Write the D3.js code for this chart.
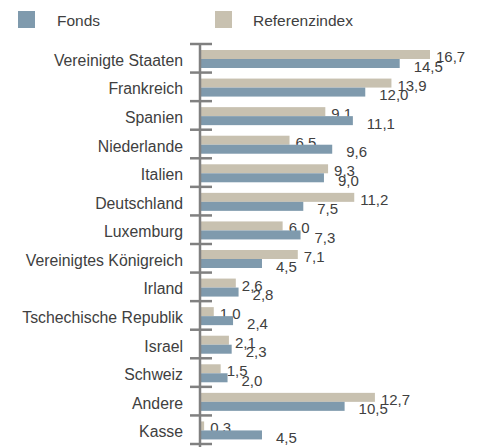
<!DOCTYPE html>
<html>
<head>
<meta charset="utf-8">
<script src="https://cdn.jsdelivr.net/npm/d3@7"></script>
<style>
  body { margin: 0; background: #fff; }
  svg text { font-family: "Liberation Sans", Arial, sans-serif; fill: #404040; }
</style>
</head>
<body>
<svg width="482" height="447"></svg>
<script>
// data
const laender = ['Vereinigte Staaten', 'Frankreich', 'Spanien', 'Niederlande', 'Italien',
  'Deutschland', 'Luxemburg', 'Vereinigtes Königreich', 'Irland', 'Tschechische Republik',
  'Israel', 'Schweiz', 'Andere', 'Kasse']
const fonds = [14.5, 12.0, 11.1, 9.6, 9.0, 7.5, 7.3, 4.5, 2.8, 2.4, 2.3, 2.0, 10.5, 4.5]
const referenz = [16.7, 13.9, 9.1, 6.5, 9.3, 11.2, 6.0, 7.1, 2.6, 1.0, 2.1, 1.5, 12.7, 0.3]
const serien = [
  { key: 'ref', name: 'Referenzindex', color: '#c8c1b0', values: referenz },
  { key: 'fonds', name: 'Fonds', color: '#7f9aad', values: fonds }
]

const fmt = v => v.toFixed(1).replace('.', ',')

const svg = d3.select('svg')
const margin = { top: 44, left: 200 }
const plotH = 400

const yScale = d3.scaleBand()
  .domain(laender)
  .range([margin.top, margin.top + plotH])
  .padding(0)

const ySub = d3.scaleBand()
  .domain(serien.map(s => s.key))
  .range([6, 24])

const xScale = d3.scaleLinear()
  .domain([0, 16.7])
  .range([0, 230])

// legend
const legend = [
  { name: 'Fonds', color: '#7f9aad', x: 18, tx: 57 },
  { name: 'Referenzindex', color: '#c8c1b0', x: 215, tx: 253 }
]
legend.forEach(l => {
  svg.append('rect').attr('x', l.x).attr('y', 11).attr('width', 17).attr('height', 17).attr('fill', l.color)
  svg.append('text').attr('x', l.tx).attr('y', 26).attr('font-size', '15.5px').text(l.name)
})

// bars
serien.forEach(s => {
  const g = svg.append('g')
  g.selectAll('rect')
    .data(laender)
    .enter()
    .append('rect')
    .attr('x', margin.left)
    .attr('y', d => yScale(d) + ySub(s.key))
    .attr('width', (d, i) => xScale(s.values[i]))
    .attr('height', ySub.bandwidth())
    .attr('fill', s.color)

  g.selectAll('text')
    .data(laender)
    .enter()
    .append('text')
    .attr('x', (d, i) => margin.left + xScale(s.values[i]) + (s.key == 'ref' ? 6 : 14))
    .attr('y', (d, i) => yScale(d) + ySub(s.key) + ySub.bandwidth() / 2 + (s.key == 'ref' ? 7.5 : 8))
    .attr('font-size', '15px')
    .text((d, i) => fmt(s.values[i]))
})

// category labels
svg.append('g')
  .selectAll('text')
  .data(laender)
  .enter()
  .append('text')
  .attr('x', 183)
  .attr('y', d => yScale(d) + yScale.bandwidth() / 2 + 7.5)
  .attr('text-anchor', 'end')
  .attr('font-size', '15.8px')
  .text(d => d)

// axis line with ticks between categories
const axis = svg.append('g').attr('stroke', '#808080').attr('stroke-width', 2.5)
axis.append('line')
  .attr('x1', margin.left).attr('x2', margin.left)
  .attr('y1', margin.top).attr('y2', 447)
const tickPos = laender.map(d => yScale(d)).concat([margin.top + plotH])
axis.selectAll('.tick')
  .data(tickPos)
  .enter()
  .append('line')
  .attr('x1', 190).attr('x2', 212)
  .attr('y1', d => d).attr('y2', d => d)
</script>
</body>
</html>
